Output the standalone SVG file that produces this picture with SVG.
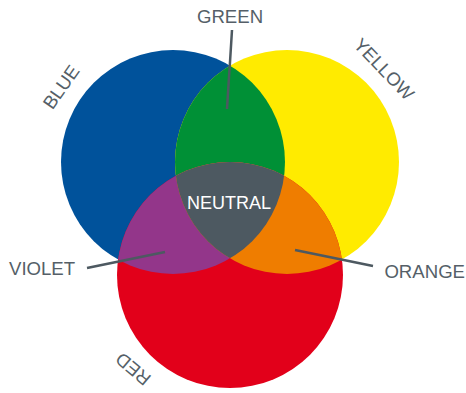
<svg xmlns="http://www.w3.org/2000/svg" width="466" height="393" viewBox="0 0 466 393">
<style>
.lbl{font-family:"Liberation Sans",Arial,sans-serif;font-size:18.6px;fill:#555f68}
.ntr{font-family:"Liberation Sans",Arial,sans-serif;font-size:18px;fill:#ffffff}
.ln{stroke:#4d5961;stroke-width:2.5;fill:none}
</style>
<defs>
<clipPath id="cb"><circle cx="173" cy="162" r="112"/></clipPath>
<clipPath id="cy"><circle cx="287" cy="162" r="112"/></clipPath>
<clipPath id="cr"><circle cx="230" cy="275" r="113"/></clipPath>
</defs>
<rect width="466" height="393" fill="#ffffff"/>
<g id="blue"><circle cx="173" cy="162" r="112" fill="#00529b"/></g>
<g id="yellow"><circle cx="287" cy="162" r="112" fill="#ffeb00"/></g>
<g id="red"><circle cx="230" cy="275" r="113" fill="#e2001a"/></g>
<g id="green" clip-path="url(#cb)"><circle cx="287" cy="162" r="112" fill="#009036"/></g>
<g id="violet" clip-path="url(#cb)"><circle cx="230" cy="275" r="113" fill="#93368a"/></g>
<g id="orange" clip-path="url(#cy)"><circle cx="230" cy="275" r="113" fill="#ef7d00"/></g>
<g id="neutral" clip-path="url(#cb)"><g clip-path="url(#cy)"><circle cx="230" cy="275" r="113" fill="#4d5961"/></g></g>
<g id="connectors">
<line class="ln" x1="232" y1="30" x2="227" y2="109"/>
<line class="ln" x1="87" y1="268" x2="165" y2="252"/>
<line class="ln" x1="295" y1="250" x2="373" y2="266"/>
</g>
<g id="labels">
<text class="lbl" x="230" y="23" text-anchor="middle">GREEN</text>
<text class="lbl" x="0" y="6.5" text-anchor="middle" transform="translate(61,87) rotate(-55)">BLUE</text>
<text class="lbl" x="0" y="6.5" text-anchor="middle" transform="translate(384,69) rotate(46)">YELLOW</text>
<text class="lbl" x="0" y="6.5" text-anchor="middle" transform="translate(133,369) rotate(220)">RED</text>
<text class="lbl" x="9" y="275">VIOLET</text>
<text class="lbl" x="465" y="278" text-anchor="end">ORANGE</text>
<text class="ntr" x="229" y="209" text-anchor="middle">NEUTRAL</text>
</g>
</svg>
